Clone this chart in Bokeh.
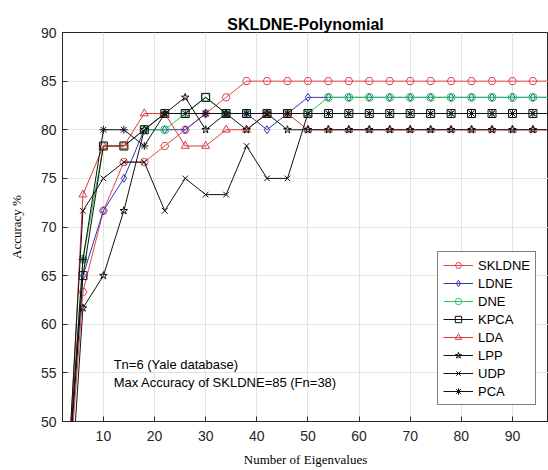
from bokeh.plotting import figure
from bokeh.models import Range1d, FixedTicker, Legend, LegendItem, Label
from bokeh.embed import file_html
from bokeh.resources import INLINE

# ---- data ----
eigen_counts = [2, 6, 10, 14, 18, 22, 26, 30, 34, 38, 42, 46, 50,
                54, 58, 62, 66, 70, 74, 78, 82, 86, 90, 94, 98]

skldne = [35, 63.33, 71.67, 76.67, 76.67, 78.33, 80, 81.67, 83.33, 85, 85, 85, 85,
          85, 85, 85, 85, 85, 85, 85, 85, 85, 85, 85, 85]
ldne = [38, 65, 71.67, 75, 80, 80, 80, 81.67, 81.67, 81.67, 80, 81.67, 83.33,
        83.33, 83.33, 83.33, 83.33, 83.33, 83.33, 83.33, 83.33, 83.33, 83.33, 83.33, 83.33]
dne = [38, 66.67, 78.33, 78.33, 80, 80, 81.67, 83.33, 81.67, 81.67, 81.67, 81.67, 81.67,
       83.33, 83.33, 83.33, 83.33, 83.33, 83.33, 83.33, 83.33, 83.33, 83.33, 83.33, 83.33]
kpca = [36, 65, 78.33, 78.33, 80, 81.67, 81.67, 83.33, 81.67, 81.67, 81.67, 81.67, 81.67,
        81.67, 81.67, 81.67, 81.67, 81.67, 81.67, 81.67, 81.67, 81.67, 81.67, 81.67, 81.67]
lda = [33, 73.33, 78.33, 78.33, 81.67, 81.67, 78.33, 78.33, 80, 80, 81.67, 81.67, 80,
       80, 80, 80, 80, 80, 80, 80, 80, 80, 80, 80, 80]
lpp = [30, 61.67, 65, 71.67, 80, 81.67, 83.33, 80, 81.67, 80, 81.67, 80, 80,
       80, 80, 80, 80, 80, 80, 80, 80, 80, 80, 80, 80]
udp = [35, 71.67, 75, 76.67, 76.67, 71.67, 75, 73.33, 73.33, 78.33, 75, 75, 81.67,
       81.67, 81.67, 81.67, 81.67, 81.67, 81.67, 81.67, 81.67, 81.67, 81.67, 81.67, 81.67]
pca = [36, 66.67, 80, 80, 78.33, 81.67, 81.67, 81.67, 81.67, 81.67, 81.67, 81.67, 81.67,
       81.67, 81.67, 81.67, 81.67, 81.67, 81.67, 81.67, 81.67, 81.67, 81.67, 81.67, 81.67]

series_names = ["SKLDNE", "LDNE", "DNE", "KPCA", "LDA", "LPP", "UDP", "PCA"]
series_values = [skldne, ldne, dne, kpca, lda, lpp, udp, pca]
series_markers = ["hex", "diamond", "circle", "square", "triangle", "star", "x", "asterisk"]
series_colors = ["#e0474c", "#3434b4", "#22cc55", "#111111", "#d93a3a", "#111111", "#111111", "#111111"]

x_ticks = [10, 20, 30, 40, 50, 60, 70, 80, 90]
y_ticks = [50, 55, 60, 65, 70, 75, 80, 85, 90]

title_text = "SKLDNE-Polynomial"
x_label = "Number of Eigenvalues"
y_label = "Accuracy %"
note_lines = ["Tn=6 (Yale database)", "Max Accuracy of SKLDNE=85 (Fn=38)"]

SANS = "Liberation Sans"
SERIF = "Liberation Serif"
AX = "#262626"

p = figure(width=548, height=470, output_backend="svg", toolbar_location=None,
           x_range=Range1d(2, 97.05), y_range=Range1d(50, 90),
           min_border_left=62, min_border_right=0, min_border_top=32,
           min_border_bottom=49)

p.background_fill_color = "white"
p.border_fill_color = "white"
p.outline_line_color = AX
p.outline_line_width = 1

p.title.text = title_text
p.title.align = "center"
p.title.text_font = SANS
p.title.text_font_size = "16px"
p.title.text_font_style = "bold"
p.title.text_color = "black"
p.title.standoff = 0

for ax in (p.xaxis[0], p.yaxis[0]):
    ax.axis_line_color = AX
    ax.major_tick_line_color = AX
    ax.major_tick_in = 5
    ax.major_tick_out = 0
    ax.minor_tick_line_color = None
    ax.major_label_text_font = SANS
    ax.major_label_text_font_size = "14px"
    ax.major_label_text_color = AX
    ax.axis_label_text_font = SERIF
    ax.axis_label_text_font_style = "normal"
    ax.axis_label_text_font_size = "13px"
    ax.axis_label_text_color = "black"

p.xaxis[0].ticker = FixedTicker(ticks=x_ticks)
p.yaxis[0].ticker = FixedTicker(ticks=y_ticks)
p.xaxis[0].axis_label = x_label
p.yaxis[0].axis_label = y_label
p.xaxis[0].major_label_standoff = 9
p.yaxis[0].major_label_standoff = 6
p.xaxis[0].axis_label_standoff = 8
p.yaxis[0].axis_label_standoff = 14

p.xgrid.ticker = FixedTicker(ticks=x_ticks)
p.ygrid.ticker = FixedTicker(ticks=y_ticks)
p.grid.grid_line_color = "#e3e3e3"
p.grid.grid_line_width = 1

items = []
for name, vals, mk, col in zip(series_names, series_values, series_markers, series_colors):
    lr = p.line(eigen_counts, vals, line_color=col, line_width=1)
    sr = p.scatter(eigen_counts, vals, marker=mk, size=8, line_color=col,
                   fill_alpha=0, line_width=1)
    items.append(LegendItem(label=name, renderers=[lr, sr]))

legend = Legend(items=items, location=(375, 16))
legend.border_line_color = "black"
legend.border_line_width = 1
legend.background_fill_color = "white"
legend.background_fill_alpha = 1
legend.label_text_font = SANS
legend.label_text_font_size = "13px"
legend.label_text_color = "black"
legend.glyph_width = 30
legend.glyph_height = 16
legend.label_height = 16
legend.spacing = 2
legend.padding = 5
legend.margin = 0
legend.label_standoff = 5
p.add_layout(legend)

for txt, yy in zip(note_lines, [55.81, 53.96]):
    p.add_layout(Label(x=12, y=yy, text=txt, text_font=SANS, text_font_size="13px",
                       text_baseline="middle", text_color="black"))

open("out.html", "w").write(file_html(p, INLINE))
